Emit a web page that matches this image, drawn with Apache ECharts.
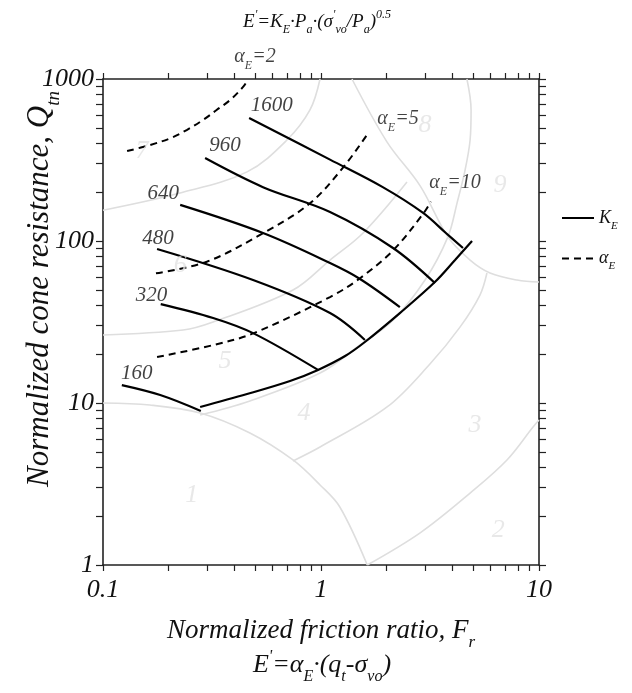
<!DOCTYPE html>
<html>
<head>
<meta charset="utf-8">
<script src="https://cdn.jsdelivr.net/npm/echarts@6/dist/echarts.min.js"></script>
<style>html,body{margin:0;padding:0;background:#fff;}#c{width:632px;height:693px;}</style>
</head>
<body>
<div id="c"></div>
<script>
// ---- data (Fr, Qtn) ----
const xTicks = [0.1,0.2,0.3,0.4,0.5,0.6,0.7,0.8,0.9,1,2,3,4,5,6,7,8,9,10];
const yTicks = [1,2,3,4,5,6,7,8,9,10,20,30,40,50,60,70,80,90,100,200,300,400,500,600,700,800,900,1000];

const kE160  = [[0.122,12.9],[0.183,11.2],[0.281,8.93]];
const kE320  = [[0.184,40.8],[0.320,33.5],[0.488,27.0],[0.969,16.0]];
const kE480  = [[0.177,89.2],[0.488,57.4],[1.10,35.9],[1.59,24.5]];
const kE640  = [[0.226,167],[0.542,112],[1.10,73.1],[1.51,58.3],[2.30,39.1]];
const kE960  = [[0.294,325],[0.542,215],[1.10,151],[2.14,90.5],[3.33,55.0]];
const kE1600 = [[0.468,575],[1.10,318],[1.92,215],[2.94,149],[3.74,112],[4.48,90.5]];
const kBoundary = [[0.279,9.45],[0.458,11.36],[0.721,13.67],[0.969,16.0],[1.29,19.5],[1.59,23.8],[2.30,35.9],[3.33,55.8],[4.12,76.3],[4.93,100]];

const aE2  = [[0.129,359],[0.164,391],[0.203,430],[0.242,484],[0.288,559],[0.332,644],[0.383,742],[0.440,897],[0.464,1000]];
const aE5  = [[0.175,63.2],[0.299,74.5],[0.544,112],[0.890,171],[1.27,287],[1.65,466]];
const aE10 = [[0.177,19.2],[0.321,22.8],[0.489,26.9],[1.10,45.1],[1.51,58.9],[2.15,88],[2.95,148],[3.19,175]];

// soil behaviour type zone boundaries (grey)
const zone1 = [[0.1,10],[0.164,9.72],[0.279,8.68],[0.472,6.53],[0.744,4.45],[0.99,3.12],[1.22,2.28],[1.63,1]];
const zoneA = [[0.1,155],[0.226,198],[0.458,267],[0.698,420],[0.890,644],[0.99,1000]];
const zoneB = [[0.1,26.3],[0.233,28.2],[0.320,31.6],[0.744,49.8],[1.10,76.3],[1.56,112],[2.48,231]];
const zoneC = [[0.279,8.43],[0.472,10.3],[0.99,15.3],[1.51,22.8],[2.14,32.5],[3.0,57.4],[3.82,106],[4.21,172],[4.58,274],[4.83,420],[4.88,644],[4.67,1000]];
const zoneD = [[0.744,4.39],[0.99,5.35],[2.01,9.45],[3.16,17.4],[4.34,29.4],[5.36,46.4],[5.77,63.5]];
const zoneE = [[1.63,1],[2.85,1.58],[4.83,2.78],[7.13,4.45],[9.39,7.11],[10,7.85]];
const zone89 = [[1.387,1000],[2.01,408],[2.85,219],[3.82,106],[4.83,76.3],[5.96,63.5],[7.93,57.4],[10,55.8]];

const zoneLabels = [[0.255,2.70,'1'],[6.51,1.64,'2'],[5.09,7.31,'3'],[0.836,8.71,'4'],[0.363,18.2,'5'],[0.226,71.1,'6'],[0.151,356,'7'],[3.0,520,'8'],[6.63,222,'9']];
const kLabels = [[0.594,691,'1600'],[0.363,391,'960'],[0.189,197,'640'],[0.179,104,'480'],[0.167,46.4,'320'],[0.143,15.25,'160']];
const aLabels = [[0.498,1367,'2'],[2.256,566,'5'],[4.118,228,'10']];

const FF = 'Liberation Serif';
const base = {fontFamily: FF, fontStyle: 'italic', color: '#111', verticalAlign: 'middle'};
function richSet(size){
  const ss = Math.round(size*0.62);
  return {
    i: Object.assign({}, base, {fontSize: size}),
    s: Object.assign({}, base, {fontSize: ss, padding: [Math.round(size*0.9),0,0,0]}),
    p: Object.assign({}, base, {fontSize: ss, padding: [0,0,Math.round(size*0.7),0]})
  };
}
function richZr(size){
  const r = richSet(size);
  Object.keys(r).forEach(function(k){ r[k].fill = '#111'; });
  return r;
}
function tickFmt(v){ return String(+(+v).toPrecision(6)); }

const chart = echarts.init(document.getElementById('c'), null, {renderer: 'canvas'});

function greySeries(data){
  return {type:'line', data:data, symbol:'none', smooth:0.35, silent:true, z:1,
    lineStyle:{color:'#dedede', width:1.6}};
}
function kSeries(data){
  return {name:'K', type:'line', data:data, symbol:'none', smooth:0.35, z:3,
    lineStyle:{color:'#000', width:2.2}, itemStyle:{color:'#000'}};
}
function aSeries(data){
  return {name:'a', type:'line', data:data, symbol:'none', smooth:0.35, z:3,
    lineStyle:{color:'#000', width:2, type:[7,5]}, itemStyle:{color:'#000'}};
}
function labelSeries(data, fmt, size, color){
  return {type:'scatter', data:data, symbolSize:0, silent:true, clip:false, z:5,
    label:{show:true, position:'inside', formatter:fmt, color:color,
      fontFamily:FF, fontStyle:'italic', fontSize:size, rich: richSet(size)}};
}

const axisCommon = {
  axisLine:{show:true, onZero:false, lineStyle:{color:'#222', width:1.6}},
  splitLine:{show:false},
  minorTick:{show:false}
};

const option = {
  animation:false,
  backgroundColor:'#fff',
  title:[
    {text:'{i|E}{p|\'}{i|=K}{s|E}{i|·P}{s|a}{i|·(σ}{p|\'}{s|vo}{i|/P}{s|a}{i|)}{p|0.5}',
     left:312, top:2, textAlign:'center',
     textStyle:{fontFamily:FF, fontStyle:'italic', fontSize:19, fontWeight:'normal', color:'#111', rich:richSet(19)}},
    {text:'{i|E}{p|\'}{i|=α}{s|E}{i|·(q}{s|t}{i|-σ}{s|vo}{i|)}',
     left:317, top:641, textAlign:'center',
     textStyle:{fontFamily:FF, fontStyle:'italic', fontSize:26, fontWeight:'normal', color:'#111', rich:richSet(26)}}
  ],
  graphic:[
    {type:'text', x:40, y:289, rotation:Math.PI/2, silent:true,
     style:{text:'{i|Normalized cone resistance, Q}{s|tn}', align:'center', verticalAlign:'middle',
       fontFamily:FF, fontStyle:'italic', fontSize:31, fill:'#111', rich:richZr(31)}}
  ],
  legend:{
    data:['K','a'], orient:'vertical', left:556, top:204, itemWidth:32, itemHeight:14, itemGap:18,
    itemStyle:{opacity:0},
    formatter: function(n){ return n==='K' ? '{i|K}{s|E}' : '{i|α}{s|E}'; },
    textStyle:{fontFamily:FF, fontStyle:'italic', fontSize:18, color:'#111', rich:richSet(18)}
  },
  grid:{left:103, right:93, top:79, bottom:128, containLabel:false, outerBoundsMode:'none'},
  xAxis:[
    Object.assign({}, axisCommon, {type:'log', logBase:10, min:0.1, max:10, position:'bottom',
      axisTick:{show:true, inside:false, length:6, customValues:xTicks, lineStyle:{color:'#222', width:1.2}},
      axisLabel:{show:true, margin:12, formatter:tickFmt, fontFamily:FF, fontStyle:'italic', fontSize:26, color:'#111'},
      name:'{i|Normalized friction ratio, F}{s|r}', nameLocation:'middle', nameGap:45,
      nameTextStyle:{fontFamily:FF, fontStyle:'italic', fontSize:27, color:'#111', rich:richSet(27)}}),
    Object.assign({}, axisCommon, {type:'log', logBase:10, min:0.1, max:10, position:'top',
      axisTick:{show:true, inside:false, length:6, customValues:xTicks, lineStyle:{color:'#222', width:1.2}},
      axisLabel:{show:false}})
  ],
  yAxis:[
    Object.assign({}, axisCommon, {type:'log', logBase:10, min:1, max:1000, position:'left',
      axisTick:{show:true, inside:false, length:7, customValues:yTicks, lineStyle:{color:'#222', width:1.2}},
      axisLabel:{show:true, margin:9, formatter:tickFmt, fontFamily:FF, fontStyle:'italic', fontSize:26, color:'#111'}}),
    Object.assign({}, axisCommon, {type:'log', logBase:10, min:1, max:1000, position:'right',
      axisTick:{show:true, inside:false, length:7, customValues:yTicks, lineStyle:{color:'#222', width:1.2}},
      axisLabel:{show:false}})
  ],
  series:[
    greySeries(zone1), greySeries(zoneA), greySeries(zoneB), greySeries(zoneC),
    greySeries(zoneD), greySeries(zoneE), greySeries(zone89),
    kSeries(kE160), kSeries(kE320), kSeries(kE480), kSeries(kE640), kSeries(kE960), kSeries(kE1600), kSeries(kBoundary),
    aSeries(aE2), aSeries(aE5), aSeries(aE10),
    labelSeries(zoneLabels, function(p){return p.value[2];}, 26, '#e2e2e2'),
    labelSeries(kLabels, function(p){return p.value[2];}, 21, '#111'),
    labelSeries(aLabels, function(p){return '{i|α}{s|E}{i|=' + p.value[2] + '}';}, 20, '#111')
  ]
};
chart.setOption(option);
</script>
</body>
</html>
